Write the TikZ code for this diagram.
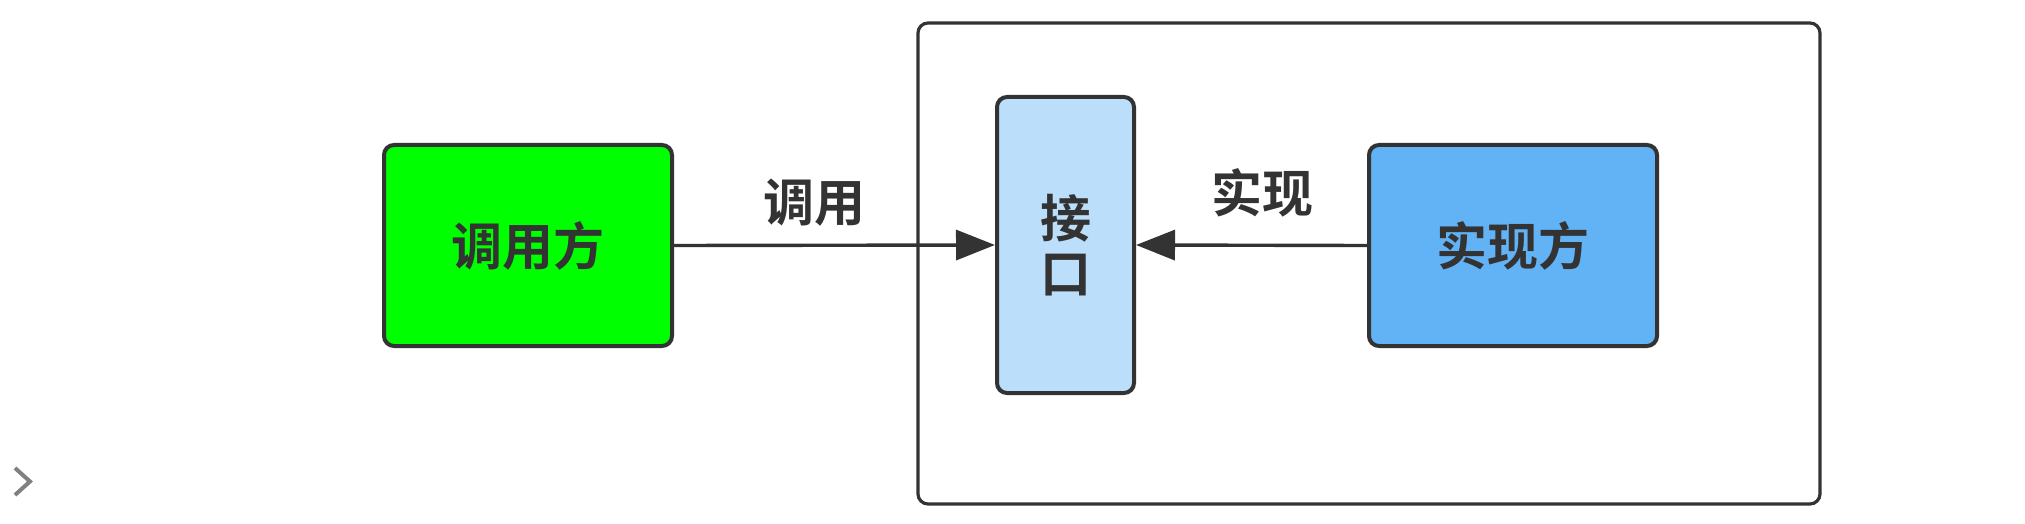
\documentclass[tikz,border=0pt]{standalone}
\usepackage{fontspec}
\newfontfamily\cjk{Noto Sans CJK SC}[BoldFont={Noto Sans CJK SC Bold}]
\usetikzlibrary{arrows.meta}
\definecolor{edge}{HTML}{333333}
\definecolor{callgreen}{HTML}{00FF00}
\definecolor{implblue}{HTML}{62B2F6}
\definecolor{ifblue}{HTML}{BBDEFA}
\definecolor{chev}{HTML}{808080}
\begin{document}
\begin{tikzpicture}[x=0.5pt,y=-0.5pt,
  box/.style={draw=edge,line width=2pt,rounded corners=5pt,inner sep=0pt,
    font=\cjk\fontsize{25.5}{27.5}\selectfont\bfseries,text=edge},
  lbl/.style={font=\cjk\fontsize{25.5}{28}\selectfont\bfseries,text=edge,inner sep=0pt},
  conn/.style={draw=edge,line width=1.7pt,-{Triangle[length=19.5pt,width=15pt]}}]
\useasboundingbox (0,0) rectangle (2025,524);
\node[draw=edge,line width=1.6pt,rounded corners=5pt,minimum width=451pt,minimum height=240.5pt,inner sep=0pt] (frame) at (1369,263.5) {};
\node[box,fill=callgreen,minimum width=144pt,minimum height=100.5pt] (caller) at (528,245.5) {调用方};
\node[box,fill=ifblue,minimum width=68.5pt,minimum height=148pt,align=center] (iface) at (1065.5,245) {接\\口};
\node[box,fill=implblue,minimum width=144pt,minimum height=100.5pt] (impl) at (1513,245.5) {实现方};
\draw[conn] (caller.east) -- (iface.west);
\draw[conn] (impl.west) -- (iface.east);
\node[lbl] (lcall) at (814,203) {调用};
\node[lbl] (limpl) at (1262,193) {实现};
\coordinate (ca) at (15,468);
\coordinate (cb) at (30,481.5);
\coordinate (cc) at (15,495);
\draw[chev,line width=2pt] (ca) -- (cb) -- (cc);
\end{tikzpicture}
\end{document}
